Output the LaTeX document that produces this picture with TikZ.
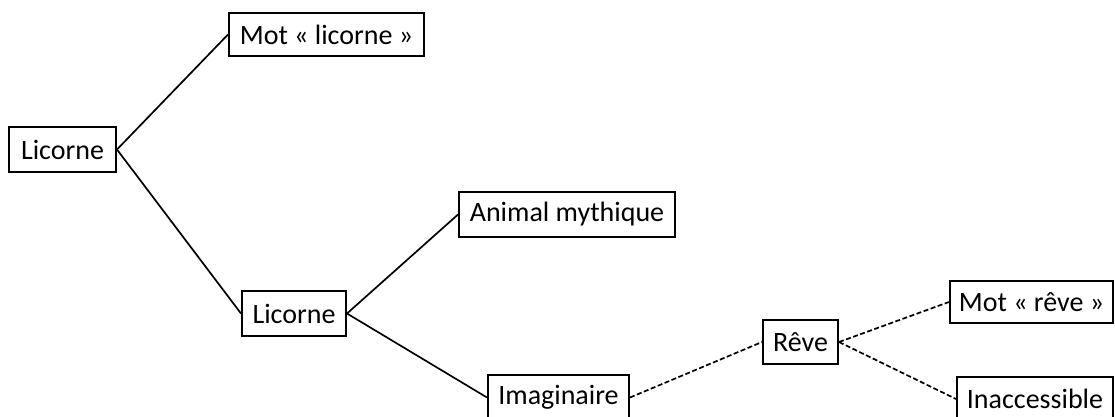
\documentclass[tikz,border=0pt]{standalone}
\usepackage{fontspec}
\setmainfont{Carlito}
\begin{document}
\begin{tikzpicture}[x=1pt,y=-1pt,
  box/.style={draw=black, line width=2pt, inner sep=0pt, fill=white,
    font=\fontsize{28}{33}\selectfont, text=black},
  link/.style={draw=black, line width=1.7pt},
  dlink/.style={link, dash pattern=on 5pt off 2.5pt}]
\useasboundingbox[fill=white] (0,0) rectangle (1115,416);
\clip (0,0) rectangle (1115,416);
\node[box, minimum width=107pt, minimum height=45pt] (L1) at (62.5,149.5) {Licorne};
\node[box, minimum width=195pt, minimum height=43pt] (M1) at (326.5,34.5) {Mot « licorne »};
\node[box, minimum width=216pt, minimum height=45pt] (A) at (567,214.5) {Animal mythique};
\node[box, minimum width=104pt, minimum height=45pt] (L2) at (294,313.5) {Licorne};
\node[box, minimum width=141pt, minimum height=45pt] (I) at (558.5,397.5) {Imaginaire};
\node[box, minimum width=75pt, minimum height=44pt] (R) at (800.5,342) {Rêve};
\node[box, minimum width=163pt, minimum height=42pt] (MR) at (1031.5,302) {Mot « rêve »};
\node[box, minimum width=156pt, minimum height=44pt] (In) at (1035,399) {Inaccessible};
\draw[link] (L1.east) -- (M1.west);
\draw[link] (L1.east) -- (L2.west);
\draw[link] (L2.east) -- (A.west);
\draw[link] (L2.east) -- (I.west);
\draw[dlink] (I.east) -- (R.west);
\draw[dlink] (R.east) -- (MR.west);
\draw[dlink] (R.east) -- (In.west);
\end{tikzpicture}
\end{document}
